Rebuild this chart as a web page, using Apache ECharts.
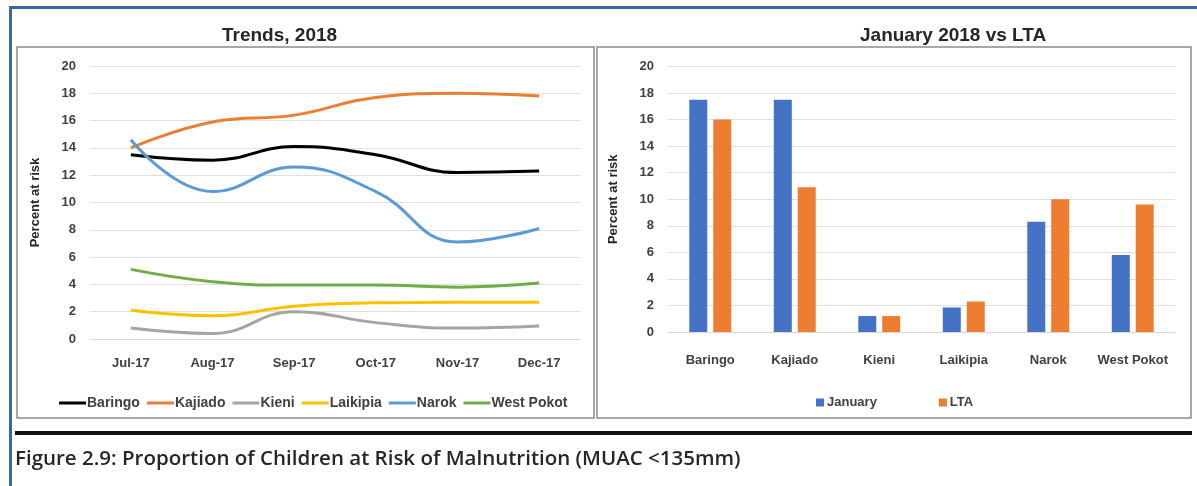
<!DOCTYPE html>
<html lang="en">
<head>
    <meta charset="UTF-8">
    <title>Children at risk of malnutrition</title>
    <script type="text/javascript" src="https://cdn.jsdelivr.net/npm/echarts@6/dist/echarts.min.js"></script>
    <style>
        html, body { margin: 0; padding: 0; background: #fff; }
    </style>
</head>
<body>
<div id="main" style="width: 1197px;height:486px;"></div>
<script>
    // data
    var months = ['Jul-17', 'Aug-17', 'Sep-17', 'Oct-17', 'Nov-17', 'Dec-17'];
    var baringo = [13.5, 13.1, 14.1, 13.5, 12.2, 12.3];
    var kajiado = [14.0, 15.9, 16.4, 17.7, 18.0, 17.8];
    var kieni = [0.8, 0.4, 2.0, 1.2, 0.8, 0.95];
    var laikipia = [2.1, 1.7, 2.4, 2.65, 2.7, 2.7];
    var narok = [14.6, 10.8, 12.6, 10.8, 7.1, 8.1];
    var westPokot = [5.1, 4.2, 3.95, 3.95, 3.8, 4.1];

    var counties = ['Baringo', 'Kajiado', 'Kieni', 'Laikipia', 'Narok', 'West Pokot'];
    var january = [17.5, 17.5, 1.2, 1.85, 8.3, 5.8];
    var lta = [16.0, 10.9, 1.2, 2.3, 10.0, 9.6];

    var font = 'Liberation Sans';
    var tickColor = '#404040';

    var myChart = echarts.init(document.getElementById('main'));

    function lineSeries(name, data, color) {
        return {
            name: name,
            type: 'line',
            xAxisIndex: 0,
            yAxisIndex: 0,
            data: data,
            smooth: 0.45,
            symbol: 'none',
            lineStyle: {width: 3, color: color},
            itemStyle: {color: color}
        };
    }

    var yAxisCommon = {
        type: 'value',
        min: 0,
        max: 20,
        interval: 2,
        name: 'Percent at risk',
        nameLocation: 'middle',
        nameGap: 48,
        nameTextStyle: {fontFamily: font, fontWeight: 'bold', fontSize: 13, color: '#262626'},
        axisLine: {show: false},
        axisTick: {show: false},
        axisLabel: {fontFamily: font, fontWeight: 'bold', fontSize: 13, color: tickColor, margin: 14},
        splitLine: {lineStyle: {color: '#e0e0e0', width: 1}}
    };

    myChart.setOption({
        animation: false,
        title: [
            {
                text: 'Trends, 2018',
                left: 217, top: 21,
                textStyle: {fontFamily: font, fontWeight: 'bold', fontSize: 19, color: '#262626'}
            },
            {
                text: 'January 2018 vs LTA',
                left: 855, top: 21,
                textStyle: {fontFamily: font, fontWeight: 'bold', fontSize: 19, color: '#262626'}
            },
            {
                text: 'Figure 2.9: Proportion of Children at Risk of Malnutrition (MUAC <135mm)',
                left: 10, top: 444,
                textStyle: {fontFamily: 'Open Sans', fontWeight: 600, fontSize: 20.5, color: '#262626'}
            }
        ],
        legend: [
            {
                data: counties,
                left: 54, top: 391,
                icon: 'rect',
                itemWidth: 27,
                itemHeight: 3,
                itemGap: 7,
                textStyle: {fontFamily: font, fontWeight: 'bold', fontSize: 14, color: tickColor, padding: [0, 0, 0, -4]}
            },
            {
                data: ['January', 'LTA'],
                left: 811, top: 391,
                icon: 'rect',
                itemWidth: 8,
                itemHeight: 8,
                itemGap: 62,
                textStyle: {fontFamily: font, fontWeight: 'bold', fontSize: 13, color: tickColor, padding: [0, 0, 0, -2]}
            }
        ],
        grid: [
            {left: 90, right: 617, top: 66, bottom: 147},
            {left: 668, right: 22, top: 66.5, bottom: 154}
        ],
        xAxis: [
            {
                gridIndex: 0,
                type: 'category',
                data: months,
                boundaryGap: true,
                axisLine: {lineStyle: {color: '#d9d9d9'}},
                axisTick: {show: false},
                axisLabel: {fontFamily: font, fontWeight: 'bold', fontSize: 13, color: tickColor, margin: 18}
            },
            {
                gridIndex: 1,
                type: 'category',
                data: counties,
                axisLine: {lineStyle: {color: '#d9d9d9'}},
                axisTick: {show: false},
                axisLabel: {fontFamily: font, fontWeight: 'bold', fontSize: 13, color: tickColor, margin: 22, interval: 0}
            }
        ],
        yAxis: [
            Object.assign({gridIndex: 0}, yAxisCommon),
            Object.assign({gridIndex: 1}, yAxisCommon)
        ],
        series: [
            lineSeries('Baringo', baringo, '#000000'),
            lineSeries('Kajiado', kajiado, '#ed7d31'),
            lineSeries('Kieni', kieni, '#a5a5a5'),
            lineSeries('Laikipia', laikipia, '#ffc000'),
            lineSeries('Narok', narok, '#5b9bd5'),
            lineSeries('West Pokot', westPokot, '#70ad47'),
            {
                name: 'January',
                type: 'bar',
                xAxisIndex: 1,
                yAxisIndex: 1,
                data: january,
                barWidth: 18,
                barGap: '33%',
                itemStyle: {color: '#4472c4'}
            },
            {
                name: 'LTA',
                type: 'bar',
                xAxisIndex: 1,
                yAxisIndex: 1,
                data: lta,
                barWidth: 18,
                barGap: '33%',
                itemStyle: {color: '#ed7d31'}
            }
        ],
        graphic: [
            // page frame
            {type: 'rect', shape: {x: 9, y: 6, width: 1190, height: 3}, style: {fill: '#3b66a3'}, silent: true},
            {type: 'rect', shape: {x: 9, y: 6, width: 3, height: 482}, style: {fill: '#3b66a3'}, silent: true},
            // chart boxes
            {type: 'rect', shape: {x: 17, y: 47, width: 577, height: 371}, style: {fill: 'none', stroke: '#8c8c8c', lineWidth: 1.5}, silent: true, z: -1},
            {type: 'rect', shape: {x: 597, y: 47, width: 594, height: 371}, style: {fill: 'none', stroke: '#8c8c8c', lineWidth: 1.5}, silent: true, z: -1},
            // rule above caption
            {type: 'rect', shape: {x: 15, y: 431, width: 1177, height: 4}, style: {fill: '#111111'}, silent: true}
        ]
    });
</script>
</body>
</html>
